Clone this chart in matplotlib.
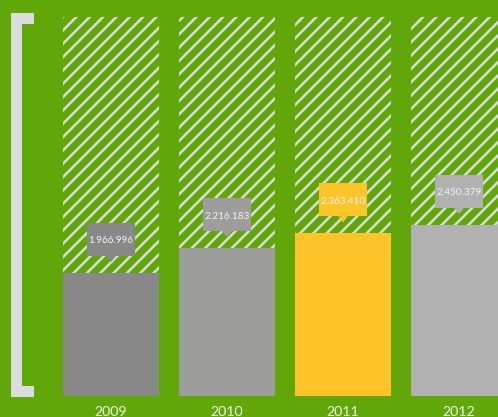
import matplotlib
matplotlib.use("Agg")
import matplotlib.pyplot as plt
from matplotlib.patches import Rectangle, Polygon

# ---- data ----
years = ["2009", "2010", "2011", "2012"]
values = [1966996, 2216183, 2363410, 2450379]
value_labels = ["1.966.996", "2.216.183", "2.363.410", "2.450.379"]
bar_colors = ["#888888", "#9d9d9c", "#fec52a", "#b1b1b1"]

# scale constants
baseline = 730000
bg_top = 4540000
ymin, ymax = 516000, 4707000

W, H, DPI = 498, 417, 120
GREEN = "#62a70a"
LIGHT = "#dcdcdc"

plt.rcParams["hatch.linewidth"] = 1.5
plt.rcParams["font.family"] = ["Lato", "DejaVu Sans"]

fig = plt.figure(figsize=(W / DPI, H / DPI), dpi=DPI, facecolor=GREEN)
ax = fig.add_axes([0, 0, 1, 1])
ax.set_facecolor(GREEN)
ax.set_xlim(-0.957, 3.336)
ax.set_ylim(ymin, ymax)
ax.axis("off")

px_x = W / (3.336 + 0.957)          # px per x unit
px_y = H / (ymax - ymin)            # px per y unit

xs = list(range(len(years)))
width = 96 / px_x

# hatched background bars
ax.bar(xs, [bg_top - baseline] * len(xs), bottom=baseline, width=width,
       facecolor=GREEN, edgecolor=LIGHT, linewidth=0, hatch="///", zorder=1)
# value bars
ax.bar(xs, [v - baseline for v in values], bottom=baseline, width=width,
       color=bar_colors, linewidth=0, zorder=2)

# label boxes
bw = 48 / px_x
bh = 33 / px_y
gap = 16.8 / px_y
tri_w = 10 / px_x
tri_h = 6 / px_y
for x, v, lab, c in zip(xs, values, value_labels, bar_colors):
    y0 = v + gap
    ax.add_patch(Rectangle((x - bw / 2, y0), bw, bh, facecolor=c,
                           linewidth=0, zorder=3))
    ax.add_patch(Polygon([(x - tri_w / 2, y0), (x + tri_w / 2, y0),
                          (x, y0 - tri_h)], closed=True, facecolor=c,
                         linewidth=0, zorder=3))
    ax.text(x, y0 + bh / 2 - 4.0 / px_y, lab, ha="center", va="baseline",
            fontsize=6.0, color="#f4f4f4", zorder=4)

# year labels
for x, yr in zip(xs, years):
    ax.text(x, ymin + 1.0 / px_y, yr, ha="center", va="baseline",
            fontsize=8.5, color="#eef3e6")

# bracket on the left
for (x0, y0, x1, y1) in [(11, 13, 21.5, 397), (11, 13, 34, 24),
                         (11, 386, 34, 397)]:
    fig.add_artist(Rectangle((x0 / W, 1 - y1 / H), (x1 - x0) / W,
                             (y1 - y0) / H, transform=fig.transFigure,
                             facecolor=LIGHT, linewidth=0))

fig.savefig("out.png", dpi=DPI, facecolor=GREEN)
